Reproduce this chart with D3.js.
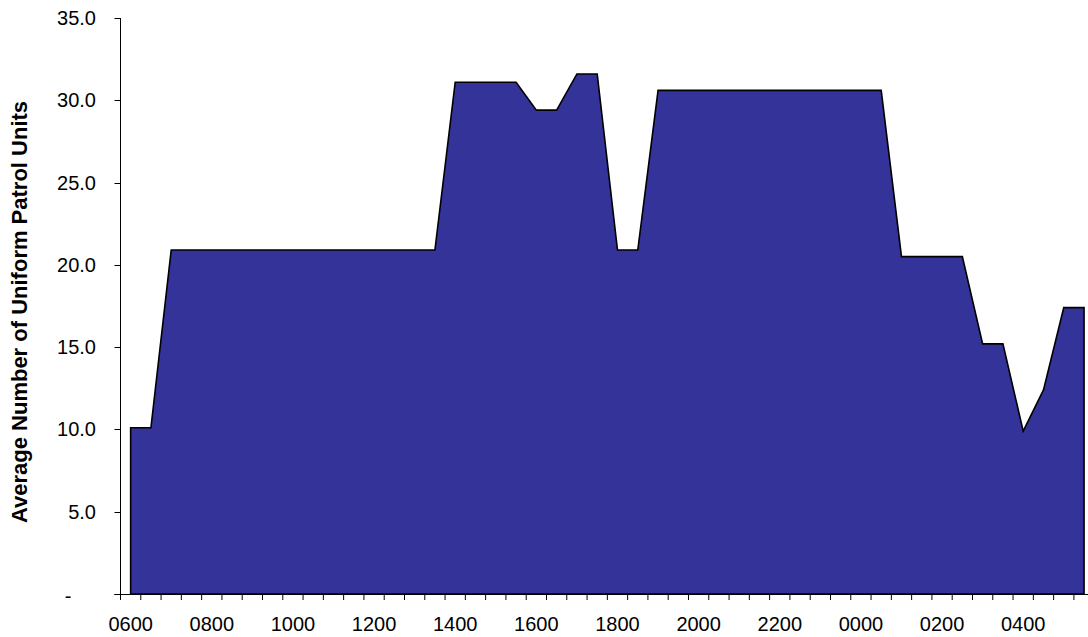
<!DOCTYPE html>
<html>
<head>
<meta charset="utf-8">
<script src="https://cdn.jsdelivr.net/npm/d3@7/dist/d3.min.js"></script>
<style>
  html, body { margin: 0; padding: 0; background: #fff; }
  svg { display: block; font-family: Arial, "Liberation Sans", sans-serif; }
</style>
</head>
<body>
<svg id="chart" width="1088" height="637"></svg>
<script>
const categories = [
  "0600","0630","0700","0730","0800","0830","0900","0930","1000","1030","1100","1130",
  "1200","1230","1300","1330","1400","1430","1500","1530","1600","1630","1700","1730",
  "1800","1830","1900","1930","2000","2030","2100","2130","2200","2230","2300","2330",
  "0000","0030","0100","0130","0200","0230","0300","0330","0400","0430","0500","0530"
];
const units = [
  10.1, 10.1, 20.9, 20.9, 20.9, 20.9, 20.9, 20.9, 20.9, 20.9, 20.9, 20.9,
  20.9, 20.9, 20.9, 20.9, 31.1, 31.1, 31.1, 31.1, 29.4, 29.4, 31.6, 31.6,
  20.9, 20.9, 30.6, 30.6, 30.6, 30.6, 30.6, 30.6, 30.6, 30.6, 30.6, 30.6,
  30.6, 30.6, 20.5, 20.5, 20.5, 20.5, 15.2, 15.2, 9.9, 12.4, 17.4, 17.4
];
const xTickLabels = ["0600","0800","1000","1200","1400","1600","1800","2000","2200","0000","0200","0400"];
const yTickValues = [0, 5, 10, 15, 20, 25, 30, 35];
const yTickLabels = ["-", "5.0", "10.0", "15.0", "20.0", "25.0", "30.0", "35.0"];
const yAxisTitle = "Average Number of Uniform Patrol Units";

(function () {
const svg = d3.select("#chart");
const pL = 120.5, pR = 1094.2, pT = 18, pB = 594;

const x = d3.scaleBand().domain(categories).range([pL, pR]).paddingInner(0).paddingOuter(0);
const y = d3.scaleLinear().domain([0, 35]).range([pB, pT]);

const data = categories.map((c, i) => ({ c, v: units[i] }));

const area = d3.area()
  .x(d => x(d.c) + x.bandwidth() / 2)
  .y0(y(0))
  .y1(d => y(d.v));

svg.append("path")
  .datum(data)
  .attr("d", area)
  .attr("fill", "#333399")
  .attr("stroke", "#000")
  .attr("stroke-width", 1.6)
  .attr("stroke-linejoin", "miter");

// Y axis
const yAxis = svg.append("g");
yAxis.append("line")
  .attr("x1", pL).attr("x2", pL)
  .attr("y1", y(35)).attr("y2", y(0))
  .attr("stroke", "#000").attr("stroke-width", 1);
yTickValues.forEach((v, i) => {
  yAxis.append("line")
    .attr("x1", pL - 6).attr("x2", pL)
    .attr("y1", Math.round(y(v)) + 0.5).attr("y2", Math.round(y(v)) + 0.5)
    .attr("stroke", "#000").attr("stroke-width", 1);
  const lab = yTickLabels[i];
  yAxis.append("text")
    .attr("x", lab === "-" ? 68 : 96)
    .attr("y", y(v) + 7 + (lab === "-" ? 2 : 0))
    .attr("text-anchor", lab === "-" ? "middle" : "end")
    .attr("font-size", 20)
    .attr("fill", "#000")
    .text(lab);
});

// X axis
const xAxis = svg.append("g");
xAxis.append("line")
  .attr("x1", pL - 6).attr("x2", pR)
  .attr("y1", pB + 0.5).attr("y2", pB + 0.5)
  .attr("stroke", "#000").attr("stroke-width", 1);
const tickPos = categories.map(c => x(c)).concat([pR]);
tickPos.forEach(p => {
  xAxis.append("line")
    .attr("x1", p).attr("x2", p)
    .attr("y1", pB).attr("y2", pB + 6)
    .attr("stroke", "#000").attr("stroke-width", 1);
});
xTickLabels.forEach(lab => {
  xAxis.append("text")
    .attr("x", x(lab) + x.bandwidth() / 2)
    .attr("y", 631)
    .attr("text-anchor", "middle")
    .attr("font-size", 20)
    .attr("fill", "#000")
    .text(lab);
});

// Y axis title
svg.append("text")
  .attr("transform", `translate(27, 312) rotate(-90)`)
  .attr("text-anchor", "middle")
  .attr("font-size", 22)
  .attr("font-weight", "bold")
  .attr("fill", "#000")
  .text(yAxisTitle);
})();
</script>
</body>
</html>
